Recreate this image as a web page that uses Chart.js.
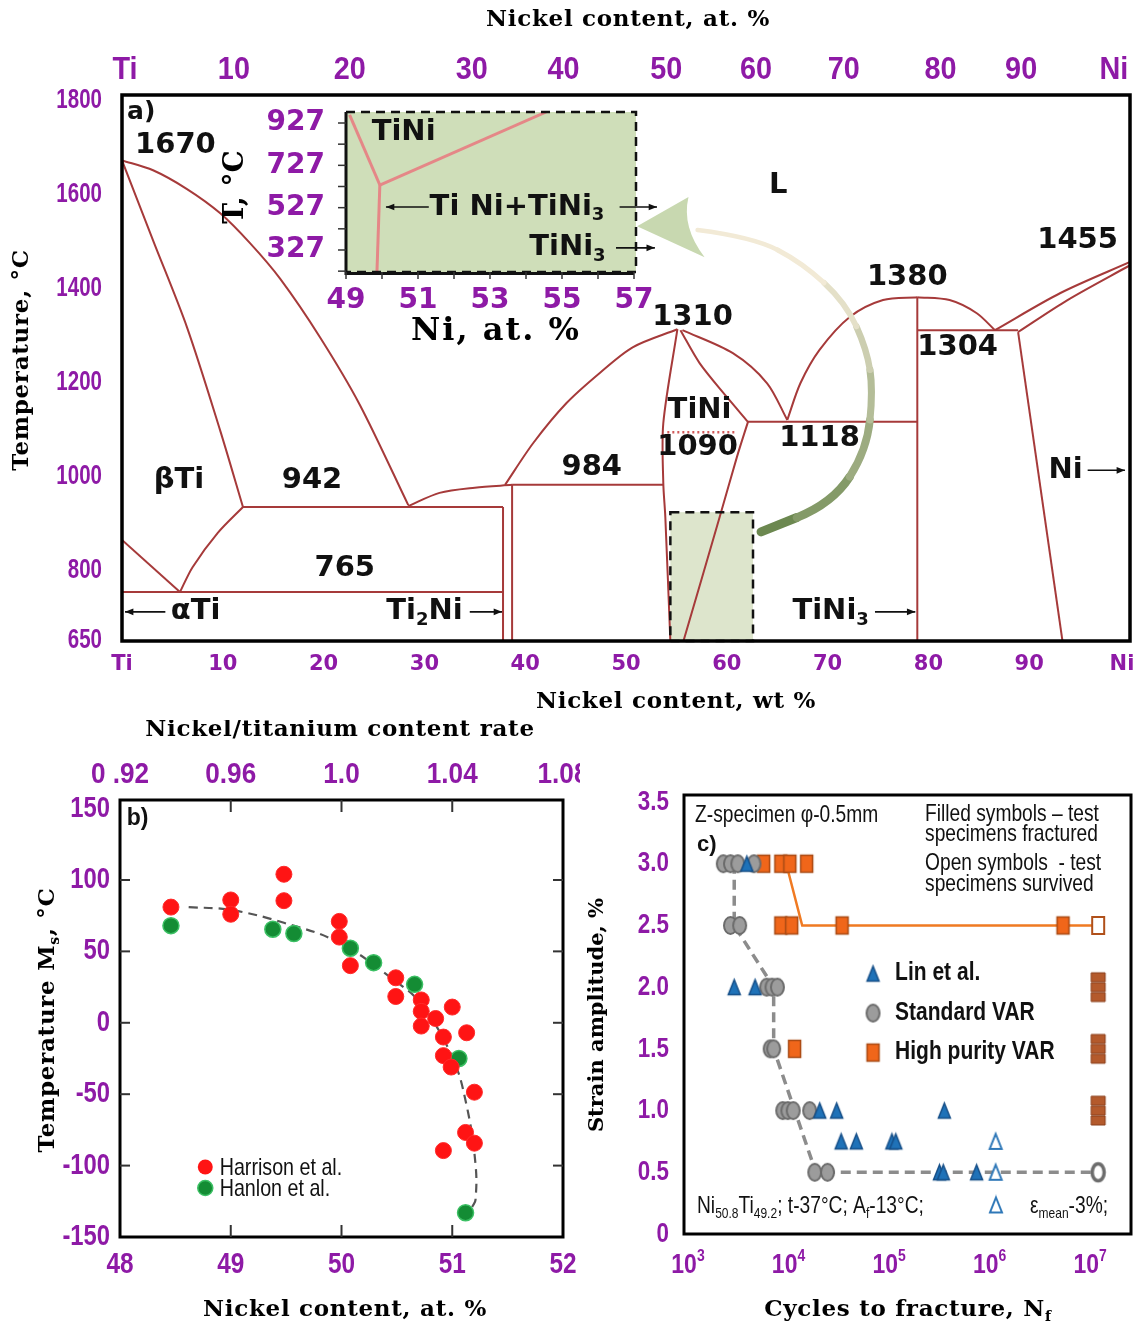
<!DOCTYPE html>
<html>
<head>
<meta charset="utf-8">
<title>Ti-Ni</title>
<script src="https://cdn.jsdelivr.net/npm/chart.js@4.4.1/dist/chart.umd.min.js"></script>
<style>
  html, body { margin: 0; padding: 0; background: #fff; }
  #wrap { position: relative; width: 1143px; height: 1326px; overflow: hidden; }
  #wrap canvas { position: absolute; }
</style>
</head>
<body>
<div id="wrap">
  <canvas id="phase" width="1143" height="720" style="left:0;top:0"></canvas>
  <canvas id="inset" width="470" height="255" style="left:200px;top:95px"></canvas>
  <canvas id="ms" width="580" height="606" style="left:0;top:720px"></canvas>
  <canvas id="fatigue" width="563" height="606" style="left:580px;top:720px"></canvas>
</div>
<script>
// ---------------------------------------------------------------------------
// a) Ti-Ni phase diagram  (x = Ni wt %, y = temperature, °C)
// ---------------------------------------------------------------------------
const wtTicks = [0, 10, 20, 30, 40, 50, 60, 70, 80, 90, 100];
const wtLabels = ['Ti', '10', '20', '30', '40', '50', '60', '70', '80', '90', 'Ni'];
const atTickPos = [0.3, 11.1, 22.6, 34.7, 43.8, 54.0, 62.9, 71.6, 81.2, 89.2, 98.4];
const atLabels = ['Ti', '10', '20', '30', '40', '50', '60', '70', '80', '90', 'Ni'];
const tTicks = [650, 800, 1000, 1200, 1400, 1600, 1800];

// curved boundaries
const liqTi = [[0, 1672], [3.08, 1651], [6.45, 1611], [9.72, 1560], [12.7, 1496], [15.7, 1420], [19.64, 1296], [23.6, 1152], [28.4, 939]];
const betaTi = [[0, 1672], [3.08, 1502], [6.45, 1317], [9.72, 1099], [12.0, 935]];
const alphaRight = [[5.75, 754], [7.0, 807], [9.5, 880], [12.0, 935]];
const eutTi2Ni = [[28.4, 937], [31.5, 965], [35.0, 976], [38.7, 982]];
const liqTiNiL = [[38.0, 982], [40.8, 1071], [44.1, 1156], [47.4, 1220], [50.7, 1275], [55.1, 1313]];
const tiNiLeft = [[55.1, 1313], [53.7, 1113], [53.7, 986], [53.9, 914], [54.4, 650]];
const tiNiRightUp = [[55.4, 1311], [57.3, 1241], [60.0, 1169], [62.1, 1116]];
const tiNiRightLow = [[62.1, 1116], [61.0, 1041], [59.3, 914], [55.7, 650]];
const liqTiNiR = [[55.6, 1311], [60.6, 1262], [64.0, 1198], [66.0, 1120]];
const liqTiNi3L = [[66.0, 1120], [67.3, 1198], [69.2, 1269], [72.2, 1339], [75.5, 1375], [78.9, 1381]];
const liqTiNi3R = [[78.9, 1381], [82.1, 1375], [84.8, 1347], [86.6, 1311]];
const liqNi = [[86.6, 1311], [93.1, 1390], [100, 1456]];
const solNi = [[88.9, 1307], [93.8, 1375], [100, 1449]];
// straight boundaries
const alphaLeft = [[0, 865], [5.75, 754]];
const iso765 = [[0, 754], [37.8, 754]];
const iso942 = [[12.0, 935], [37.8, 935]];
const ti2NiL = [[37.8, 935], [37.8, 650]];
const ti2NiR = [[38.7, 982], [38.7, 650]];
const iso984 = [[38.7, 982], [53.7, 982]];
const iso1118 = [[62.1, 1116], [78.9, 1116]];
const tiNi3Line = [[78.9, 1381], [78.9, 650]];
const iso1304 = [[78.9, 1311], [88.9, 1311]];
const solvusNi = [[88.9, 1307], [93.3, 650]];
const iso1090 = [[54.1, 1094], [61.0, 1094]];

// framed region and the curved pointer to the inset
const boxWt = [54.4, 62.6];
const boxT = [650, 924];
const arrowWt = [63.4, 70.5, 73.9, 74.5, 73.9, 71.8, 67.5, 62.6, 57.1];
const arrowT = [882, 943, 1056, 1184, 1269, 1369, 1454, 1509, 1524];
const arrowHeadWt = [51.1, 56.2, 57.8];
const arrowHeadT = [1532, 1594, 1466];

// inset (x = Ni at %, y = °C)
const insetAtTicks = [49, 51, 53, 55, 57];
const insetTTicks = [327, 527, 727, 927];
const insetMinorAt = [49, 50, 51, 52, 53, 54, 55, 56, 57];
const insetMinorT = [227, 327, 427, 527, 627, 727, 827, 927];
const insetSolvusA = [[49.1, 965], [49.94, 634]];
const insetSolvusB = [[49.94, 634], [54.56, 979]];
const insetSolvusC = [[49.94, 634], [49.86, 223]];

// ---------------------------------------------------------------------------
// b) Ms temperature vs Ni content
// ---------------------------------------------------------------------------
const msAtTicks = [48, 49, 50, 51, 52];
const msRatioLabels = ['0 .92', '0.96', '1.0', '1.04', '1.08'];
const msTTicks = [-150, -100, -50, 0, 50, 100, 150];
const msInnerX = [49, 50, 51];
const msInnerY = [-100, -50, 0, 50, 100];
const harrisonNi = [48.46, 49.0, 49.0, 49.48, 49.48, 49.98, 49.98, 50.08, 50.49, 50.49, 50.72, 50.72, 50.72, 50.85, 51.0, 51.13, 50.92, 50.92, 50.99, 51.2, 51.12, 51.2, 50.92];
const harrisonMs = [81, 86, 76, 104, 85.5, 71, 60, 40, 31.5, 18.4, 16, 8, -2.3, 3, 11, -7, -10, -23, -31, -48.6, -76.8, -84.3, -89.5];
const hanlonNi = [48.46, 49.38, 49.57, 50.08, 50.29, 50.66, 51.06, 51.12];
const hanlonMs = [68, 65.5, 62.5, 52.2, 42.1, 26.9, -25, -133];
const fitNi = [48.62, 49.0, 49.48, 49.98, 50.49, 50.72, 51.0, 51.13, 51.21, 51.21, 51.18];
const fitMs = [81, 79, 70, 56, 29, 13, -24, -58, -99, -124, -129];

// ---------------------------------------------------------------------------
// c) strain amplitude vs cycles to fracture
// ---------------------------------------------------------------------------
const nfTicks = [1e3, 1e4, 1e5, 1e6, 1e7];
const nfExp = ['3', '4', '5', '6', '7'];
const saTicks = [0, 0.5, 1, 1.5, 2, 2.5, 3, 3.5];
const stdN = [2460, 2900, 3430, 4970, 2900, 3580, 6640, 7500, 8500, 7200, 7800, 9600, 10800, 12200, 17800, 20000, 26800];
const stdS = [3.0, 3.0, 3.0, 3.0, 2.5, 2.5, 2.0, 2.0, 2.0, 1.5, 1.5, 1.0, 1.0, 1.0, 1.0, 0.5, 0.5];
const stdOpenN = [13200000];
const stdOpenS = [0.5];
const linN = [4220, 3160, 5100, 22400, 33000, 389000, 36600, 51800, 117000, 128000, 348000, 380000, 815000];
const linS = [3.0, 2.0, 2.0, 1.0, 1.0, 1.0, 0.75, 0.75, 0.75, 0.75, 0.5, 0.5, 0.5];
const linOpenN = [1260000, 1260000];
const linOpenS = [0.75, 0.5];
const hpN = [6200, 9200, 11300, 16600, 9200, 11800, 37400, 5900000, 12600];
const hpS = [3.0, 3.0, 3.0, 3.0, 2.5, 2.5, 2.5, 2.5, 1.5];
const hpOpenN = [13200000];
const hpOpenS = [2.5];
const hpStackN = [13200000, 13200000, 13200000, 13200000, 13200000, 13200000, 13200000, 13200000, 13200000];
const hpStackS = [2.08, 2.0, 1.92, 1.58, 1.5, 1.42, 1.08, 1.0, 0.92];
const hpLineN = [10400, 15000, 13200000];
const hpLineS = [3.0, 2.5, 2.5];
const stdLineN = [3160, 3160, 7800, 7800, 20500, 13200000];
const stdLineS = [3.0, 2.5, 2.0, 1.5, 0.5, 0.5];

// ---------------------------------------------------------------------------
const SANS = "'Liberation Sans',Arial,sans-serif";
const SERIF = "'DejaVu Serif',serif";
const DVS = "'DejaVu Sans',sans-serif";
const PURPLE = '#8e1aa6';
const LINE = '#a63a3a';

Chart.defaults.font.family = SANS;

const pts = (xs, ys) => xs.map((x, i) => ({ x: x, y: ys[i] }));
const pairs = arr => arr.map(p => ({ x: p[0], y: p[1] }));

function parseRich(s) {
  const out = [];
  const re = /([_^])\{([^}]*)\}/g;
  let m, last = 0;
  while ((m = re.exec(s))) {
    if (m.index > last) out.push({ t: s.slice(last, m.index), k: 0 });
    out.push({ t: m[2], k: m[1] === '_' ? 1 : -1 });
    last = re.lastIndex;
  }
  if (last < s.length) out.push({ t: s.slice(last), k: 0 });
  return out;
}

// text with _{sub} and ^{sup}; sx squeezes the glyphs horizontally
function drawRich(ctx, s, x, y, f) {
  const parts = parseRich(s);
  const fontOf = k => `${f.weight || 'normal'} ${k ? Math.round(f.size * 0.62) : f.size}px ${f.family || SANS}`;
  ctx.save();
  ctx.letterSpacing = (f.spacing || 0) + 'px';
  let w = 0;
  parts.forEach(p => { ctx.font = fontOf(p.k); p.w = ctx.measureText(p.t).width; w += p.w; });
  ctx.translate(x, y);
  if (f.rot) ctx.rotate(f.rot);
  if (f.sx) ctx.scale(f.sx, 1);
  let cx = f.align === 'left' ? 0 : f.align === 'right' ? -w : -w / 2;
  ctx.fillStyle = f.color || '#000';
  ctx.textBaseline = 'middle';
  ctx.textAlign = 'left';
  parts.forEach(p => {
    ctx.font = fontOf(p.k);
    const dy = p.k === 1 ? f.size * 0.3 : p.k === -1 ? -f.size * 0.32 : 0;
    ctx.fillText(p.t, cx, dy);
    cx += p.w;
  });
  ctx.restore();
}

function arrowLine(ctx, x1, y1, x2, y2) {
  ctx.save();
  ctx.strokeStyle = '#111';
  ctx.fillStyle = '#111';
  ctx.lineWidth = 1.6;
  ctx.beginPath(); ctx.moveTo(x1, y1); ctx.lineTo(x2, y2); ctx.stroke();
  const a = Math.atan2(y2 - y1, x2 - x1), h = 9;
  ctx.beginPath();
  ctx.moveTo(x2, y2);
  ctx.lineTo(x2 - h * Math.cos(a - 0.38), y2 - h * Math.sin(a - 0.38));
  ctx.lineTo(x2 - h * Math.cos(a + 0.38), y2 - h * Math.sin(a + 0.38));
  ctx.closePath(); ctx.fill();
  ctx.restore();
}

function mix(a, b, t) {
  const h = c => [1, 3, 5].map(i => parseInt(c.slice(i, i + 2), 16));
  const pa = h(a), pb = h(b);
  return 'rgb(' + pa.map((v, i) => Math.round(v + (pb[i] - v) * t)).join(',') + ')';
}

function fixAxis(size, horizontal) {
  return s => {
    if (horizontal) s.height = size; else s.width = size;
    s.paddingLeft = 0; s.paddingRight = 0; s.paddingTop = 0; s.paddingBottom = 0;
  };
}
const setTicks = arr => s => { s.ticks = arr.map(v => ({ value: v })); };
const axisBase = { grid: { display: false, drawTicks: false }, border: { display: false }, ticks: { display: false } };

const TITLE = { size: 23, weight: 'bold', family: SERIF, spacing: 0.7 };
const tickFont = (size, sx, extra) => Object.assign({ size: size, weight: 'bold', family: SANS, color: PURPLE, sx: sx }, extra || {});

// ---------------------------------------------------------------------------
// chart a)
// ---------------------------------------------------------------------------
const curved = [liqTi, betaTi, alphaRight, eutTi2Ni, liqTiNiL, tiNiLeft, tiNiRightUp, tiNiRightLow,
  liqTiNiR, liqTiNi3L, liqTiNi3R, liqNi, solNi];
const straight = [alphaLeft, iso765, iso942, ti2NiL, ti2NiR, iso984, iso1118, tiNi3Line, iso1304, solvusNi];

const phaseSets = curved.map(c => ({ data: pairs(c), showLine: true, tension: 0.3, borderColor: LINE, borderWidth: 2, pointRadius: 0 }))
  .concat(straight.map(c => ({ data: pairs(c), showLine: true, tension: 0, borderColor: LINE, borderWidth: 2, pointRadius: 0 })))
  .concat([{ data: pairs(iso1090), showLine: true, borderColor: '#d05a5a', borderWidth: 2.5, borderDash: [2, 3], pointRadius: 0 }]);

const phaseTexts = [
  ['1670', 5.3, 1704], ['L', 65.1, 1619], ['1455', 94.8, 1502], ['1380', 77.9, 1424],
  ['1310', 56.6, 1339], ['1304', 82.9, 1275], ['TiNi', 57.3, 1141], ['1090', 57.1, 1062],
  ['1118', 69.2, 1081], ['βTi', 5.65, 992], ['942', 18.85, 992], ['984', 46.6, 1020],
  ['765', 22.1, 805], ['αTi', 7.3, 712], ['Ti_{2}Ni', 30.0, 712], ['TiNi_{3}', 70.3, 712], ['Ni', 93.6, 1013]
];
const phaseArrows = [[4.3, 712, 0.3, 712], [34.5, 712, 37.7, 712], [74.7, 712, 78.7, 712], [95.8, 1013, 99.5, 1013]];

new Chart(document.getElementById('phase'), {
  type: 'scatter',
  data: { datasets: phaseSets },
  options: {
    responsive: false, animation: false, devicePixelRatio: 1,
    layout: { padding: { top: 0, right: 13, bottom: 0, left: 0 } },
    plugins: { legend: { display: false }, tooltip: { enabled: false } },
    scales: {
      x: Object.assign({ type: 'linear', position: 'bottom', min: 0, max: 100,
        afterBuildTicks: setTicks(wtTicks), afterFit: fixAxis(79, true) }, axisBase),
      x2: Object.assign({ type: 'linear', position: 'top', min: 0, max: 100,
        afterBuildTicks: setTicks(atTickPos), afterFit: fixAxis(95, true) }, axisBase),
      y: Object.assign({ type: 'linear', min: 650, max: 1811,
        afterBuildTicks: setTicks(tTicks), afterFit: fixAxis(122, false) }, axisBase)
    }
  },
  plugins: [{
    id: 'phaseDecor',
    beforeDatasetsDraw(chart) {
      const ctx = chart.ctx, X = v => chart.scales.x.getPixelForValue(v), Y = v => chart.scales.y.getPixelForValue(v);
      ctx.save();
      ctx.fillStyle = '#dde5cc';
      ctx.fillRect(X(boxWt[0]), Y(boxT[1]), X(boxWt[1]) - X(boxWt[0]), Y(boxT[0]) - Y(boxT[1]));
      ctx.restore();
    },
    afterDatasetsDraw(chart) {
      const ctx = chart.ctx, a = chart.chartArea;
      const X = v => chart.scales.x.getPixelForValue(v), Y = v => chart.scales.y.getPixelForValue(v);
      ctx.save();
      // dashed frame of the zoomed region
      ctx.strokeStyle = '#111'; ctx.lineWidth = 2.5; ctx.setLineDash([9, 6]);
      ctx.strokeRect(X(boxWt[0]), Y(boxT[1]), X(boxWt[1]) - X(boxWt[0]), Y(boxT[0]) - Y(boxT[1]));
      ctx.setLineDash([]);
      // curved pointer to the inset
      const p = arrowWt.map((w, i) => [X(w), Y(arrowT[i])]);
      ctx.lineCap = 'round';
      for (let i = 0; i < p.length - 1; i++) {
        const t = i / (p.length - 2);
        const s0 = i === 0 ? p[0] : [(p[i - 1][0] + p[i][0]) / 2, (p[i - 1][1] + p[i][1]) / 2];
        const s1 = i === p.length - 2 ? p[i + 1] : [(p[i][0] + p[i + 1][0]) / 2, (p[i][1] + p[i + 1][1]) / 2];
        ctx.strokeStyle = mix('#6c8850', '#f2ead6', Math.min(1, t * 1.25));
        ctx.lineWidth = 9 - 4.5 * t;
        ctx.beginPath(); ctx.moveTo(s0[0], s0[1]);
        ctx.quadraticCurveTo(p[i][0], p[i][1], s1[0], s1[1]);
        ctx.stroke();
      }
      ctx.fillStyle = '#c8d8b0';
      ctx.beginPath();
      ctx.moveTo(X(arrowHeadWt[0]), Y(arrowHeadT[0]));
      ctx.lineTo(X(arrowHeadWt[1]), Y(arrowHeadT[1]));
      ctx.quadraticCurveTo(X(55.5), Y(1530), X(arrowHeadWt[2]), Y(arrowHeadT[2]));
      ctx.closePath(); ctx.fill();
      // frame
      ctx.strokeStyle = '#000'; ctx.lineWidth = 3.5;
      ctx.strokeRect(a.left, a.top, a.right - a.left, a.bottom - a.top);
      ctx.restore();
      const lf = { size: 29, weight: 'bold', family: DVS, color: '#111' };
      phaseTexts.forEach(t => drawRich(ctx, t[0], X(t[1]), Y(t[2]), lf));
      drawRich(ctx, 'a)', X(0.5), Y(1774), { size: 25, weight: 'bold', family: DVS, color: '#111', align: 'left' });
      phaseArrows.forEach(r => arrowLine(ctx, X(r[0]), Y(r[1]), X(r[2]), Y(r[3])));
    },
    afterDraw(chart) {
      const ctx = chart.ctx, a = chart.chartArea;
      const X = v => chart.scales.x.getPixelForValue(v), Y = v => chart.scales.y.getPixelForValue(v);
      tTicks.forEach(v => drawRich(ctx, String(v), a.left - 20, Y(v), tickFont(27, 0.76, { align: 'right' })));
      wtTicks.forEach((v, i) => drawRich(ctx, wtLabels[i], X(v) - (i === wtTicks.length - 1 ? 8 : 0), a.bottom + 24,
        { size: 21, weight: 'bold', family: DVS, color: PURPLE }));
      atTickPos.forEach((v, i) => drawRich(ctx, atLabels[i], X(v), a.top - 25, tickFont(32, 0.9)));
      drawRich(ctx, 'Nickel content, at. %', 628, 20, TITLE);
      drawRich(ctx, 'Nickel content, wt %', 676, 702, TITLE);
      drawRich(ctx, 'Temperature, °C', 22, 360, Object.assign({}, TITLE, { rot: -Math.PI / 2 }));
    }
  }]
});

// inset of a)
new Chart(document.getElementById('inset'), {
  type: 'scatter',
  data: {
    datasets: [insetSolvusA, insetSolvusB, insetSolvusC].map(c => ({
      data: pairs(c), showLine: true, borderColor: '#e58787', borderWidth: 3, pointRadius: 0
    }))
  },
  options: {
    responsive: false, animation: false, devicePixelRatio: 1,
    layout: { padding: { top: 17, right: 36, bottom: 0, left: 0 } },
    plugins: { legend: { display: false }, tooltip: { enabled: false } },
    scales: {
      x: Object.assign({ type: 'linear', min: 49, max: 57,
        afterBuildTicks: setTicks(insetAtTicks), afterFit: fixAxis(78, true) }, axisBase),
      y: Object.assign({ type: 'linear', min: 223, max: 979,
        afterBuildTicks: setTicks(insetTTicks), afterFit: fixAxis(146, false) }, axisBase)
    }
  },
  plugins: [{
    id: 'insetDecor',
    beforeDatasetsDraw(chart) {
      const ctx = chart.ctx, a = chart.chartArea;
      ctx.save(); ctx.fillStyle = '#cfdeb9';
      ctx.fillRect(a.left, a.top, a.right - a.left + 2, a.bottom - a.top);
      ctx.restore();
    },
    afterDatasetsDraw(chart) {
      const ctx = chart.ctx, a = chart.chartArea;
      const X = v => chart.scales.x.getPixelForValue(v), Y = v => chart.scales.y.getPixelForValue(v);
      ctx.save();
      ctx.strokeStyle = '#111'; ctx.lineWidth = 2.5; ctx.setLineDash([9, 6]);
      ctx.beginPath();
      ctx.moveTo(a.left, a.top); ctx.lineTo(a.right + 2, a.top); ctx.lineTo(a.right + 2, a.bottom); ctx.lineTo(a.left, a.bottom);
      ctx.stroke();
      ctx.setLineDash([]);
      ctx.lineWidth = 3;
      ctx.beginPath(); ctx.moveTo(a.left, a.top); ctx.lineTo(a.left, a.bottom + 1.5); ctx.lineTo(a.right, a.bottom + 1.5); ctx.stroke();
      ctx.lineWidth = 1.5; ctx.strokeStyle = '#333';
      insetMinorT.forEach(t => { ctx.beginPath(); ctx.moveTo(a.left, Y(t)); ctx.lineTo(a.left - 8, Y(t)); ctx.stroke(); });
      insetMinorAt.forEach(v => { ctx.beginPath(); ctx.moveTo(X(v), a.bottom); ctx.lineTo(X(v), a.bottom + 7); ctx.stroke(); });
      ctx.restore();
      const f = { size: 29, weight: 'bold', family: DVS, color: '#111' };
      drawRich(ctx, 'TiNi', X(50.6), Y(880), f);
      drawRich(ctx, 'Ti Ni+TiNi_{3}', X(53.75), Y(530), f);
      drawRich(ctx, 'TiNi_{3}', X(55.15), Y(337), f);
      arrowLine(ctx, X(51.3), Y(530), X(50.11), Y(530));
      arrowLine(ctx, X(56.6), Y(530), X(57.64), Y(530));
      arrowLine(ctx, X(56.5), Y(337), X(57.58), Y(337));
    },
    afterDraw(chart) {
      const ctx = chart.ctx, a = chart.chartArea;
      const X = v => chart.scales.x.getPixelForValue(v), Y = v => chart.scales.y.getPixelForValue(v);
      insetTTicks.forEach(v => drawRich(ctx, String(v), a.left - 21, Y(v),
        { size: 28, weight: 'bold', family: DVS, color: PURPLE, align: 'right' }));
      insetAtTicks.forEach(v => drawRich(ctx, String(v), X(v), a.bottom + 29,
        { size: 28, weight: 'bold', family: DVS, color: PURPLE }));
      drawRich(ctx, 'T, °C', 36, 92, { size: 28, weight: 'bold', family: SERIF, rot: -Math.PI / 2 });
      drawRich(ctx, 'Ni, at. %', 296, 237, { size: 32, weight: 'bold', family: SERIF, spacing: 2 });
    }
  }]
});

// ---------------------------------------------------------------------------
// chart b)
// ---------------------------------------------------------------------------
new Chart(document.getElementById('ms'), {
  type: 'scatter',
  data: {
    datasets: [
      { label: 'Harrison et al.', data: pts(harrisonNi, harrisonMs), pointRadius: 8, backgroundColor: '#ff1414', borderColor: '#ff2a2a', borderWidth: 1, order: 0 },
      { label: 'Hanlon et al.', data: pts(hanlonNi, hanlonMs), pointRadius: 8, backgroundColor: '#148c34', borderColor: '#3cc064', borderWidth: 1.5, order: 1 },
      { label: 'fit', data: pts(fitNi, fitMs), showLine: true, tension: 0.4, borderColor: '#555', borderWidth: 2.2, borderDash: [9, 6], pointRadius: 0, order: 5 }
    ]
  },
  options: {
    responsive: false, animation: false, devicePixelRatio: 1,
    layout: { padding: { top: 0, right: 17, bottom: 0, left: 0 } },
    plugins: { legend: { display: false }, tooltip: { enabled: false } },
    scales: {
      x: Object.assign({ type: 'linear', position: 'bottom', min: 48, max: 52,
        afterBuildTicks: setTicks(msAtTicks), afterFit: fixAxis(89, true) }, axisBase),
      x2: Object.assign({ type: 'linear', position: 'top', min: 48, max: 52,
        afterBuildTicks: setTicks(msAtTicks), afterFit: fixAxis(80, true) }, axisBase),
      y: Object.assign({ type: 'linear', min: -150, max: 156,
        afterBuildTicks: setTicks(msTTicks), afterFit: fixAxis(120, false) }, axisBase)
    }
  },
  plugins: [{
    id: 'msDecor',
    afterDatasetsDraw(chart) {
      const ctx = chart.ctx, a = chart.chartArea;
      const X = v => chart.scales.x.getPixelForValue(v), Y = v => chart.scales.y.getPixelForValue(v);
      ctx.save();
      ctx.strokeStyle = '#000'; ctx.lineWidth = 3;
      ctx.strokeRect(a.left, a.top, a.right - a.left, a.bottom - a.top);
      ctx.lineWidth = 2; ctx.strokeStyle = '#333';
      msInnerX.forEach(v => {
        ctx.beginPath(); ctx.moveTo(X(v), a.top); ctx.lineTo(X(v), a.top + 12); ctx.stroke();
        ctx.beginPath(); ctx.moveTo(X(v), a.bottom); ctx.lineTo(X(v), a.bottom - 12); ctx.stroke();
      });
      msInnerY.forEach(v => {
        ctx.beginPath(); ctx.moveTo(a.left, Y(v)); ctx.lineTo(a.left + 10, Y(v)); ctx.stroke();
        ctx.beginPath(); ctx.moveTo(a.right, Y(v)); ctx.lineTo(a.right - 10, Y(v)); ctx.stroke();
      });
      // legend
      ctx.fillStyle = '#ff1414';
      ctx.beginPath(); ctx.arc(X(48.77), Y(-101), 7.5, 0, Math.PI * 2); ctx.fill();
      ctx.fillStyle = '#148c34'; ctx.strokeStyle = '#3cc064'; ctx.lineWidth = 1.5;
      ctx.beginPath(); ctx.arc(X(48.77), Y(-115.7), 7.5, 0, Math.PI * 2); ctx.fill(); ctx.stroke();
      ctx.restore();
      const f = { size: 24, family: SANS, color: '#111', align: 'left', sx: 0.82 };
      drawRich(ctx, 'Harrison et al.', X(48.9), Y(-102), f);
      drawRich(ctx, 'Hanlon et al.', X(48.9), Y(-116.5), f);
      drawRich(ctx, 'b)', X(48.06), Y(143), { size: 23, weight: 'bold', family: SANS, color: '#111', align: 'left' });
    },
    afterDraw(chart) {
      const ctx = chart.ctx, a = chart.chartArea;
      const X = v => chart.scales.x.getPixelForValue(v), Y = v => chart.scales.y.getPixelForValue(v);
      msTTicks.forEach(v => drawRich(ctx, String(v), a.left - 10, Y(v), tickFont(29, 0.82, { align: 'right' })));
      msAtTicks.forEach(v => drawRich(ctx, String(v), X(v), a.bottom + 28, tickFont(29, 0.84)));
      msAtTicks.forEach((v, i) => drawRich(ctx, msRatioLabels[i], X(v), a.top - 25, tickFont(29, 0.9)));
      drawRich(ctx, 'Nickel/titanium content rate', 340, 10, TITLE);
      drawRich(ctx, 'Nickel content, at. %', 345, 590, TITLE);
      drawRich(ctx, 'Temperature M_{s}, °C', 48, 300, Object.assign({}, TITLE, { rot: -Math.PI / 2 }));
    }
  }]
});

// ---------------------------------------------------------------------------
// chart c)
// ---------------------------------------------------------------------------
function sym(shape, w, h, fill, stroke, lw) {
  const c = document.createElement('canvas');
  c.width = Math.ceil(w + 2 * lw + 2); c.height = Math.ceil(h + 2 * lw + 2);
  const g = c.getContext('2d'), cx = c.width / 2, cy = c.height / 2;
  g.fillStyle = fill; g.strokeStyle = stroke; g.lineWidth = lw;
  g.beginPath();
  if (shape === 'ellipse') g.ellipse(cx, cy, w / 2, h / 2, 0, 0, Math.PI * 2);
  else if (shape === 'rect') g.rect(cx - w / 2, cy - h / 2, w, h);
  else { g.moveTo(cx, cy - h / 2); g.lineTo(cx + w / 2, cy + h / 2); g.lineTo(cx - w / 2, cy + h / 2); g.closePath(); }
  g.fill(); g.stroke();
  return c;
}
const symStd = sym('ellipse', 13, 17, '#9c9c9c', '#6c6c6c', 2);
const symStdOpen = sym('ellipse', 12, 17, '#ffffff', '#6c6c6c', 3.5);
const symLin = sym('tri', 12, 15, '#1f72b8', '#164f88', 1.5);
const symLinOpen = sym('tri', 12, 15, '#ffffff', '#2f78b8', 2);
const symHp = sym('rect', 12, 17, '#f0661a', '#a84a14', 1.5);
const symHpOpen = sym('rect', 12, 17, '#ffffff', '#b0501a', 2);
const symStack = sym('rect', 14, 9, '#b45a2c', '#8a3e1a', 1);

const pointSet = (xs, ys, s) => ({ data: pts(xs, ys), pointStyle: s, pointRadius: 8, order: 0 });

new Chart(document.getElementById('fatigue'), {
  type: 'scatter',
  data: {
    datasets: [
      pointSet(linN, linS, symLin),
      pointSet(linOpenN, linOpenS, symLinOpen),
      pointSet(stdN, stdS, symStd),
      pointSet(stdOpenN, stdOpenS, symStdOpen),
      pointSet(hpN, hpS, symHp),
      pointSet(hpOpenN, hpOpenS, symHpOpen),
      pointSet(hpStackN, hpStackS, symStack),
      { data: pts(hpLineN, hpLineS), showLine: true, borderColor: '#f07a22', borderWidth: 2.5, pointRadius: 0, order: 5 },
      { data: pts(stdLineN, stdLineS), showLine: true, borderColor: '#8c8c8c', borderWidth: 3.5, borderDash: [10, 6], pointRadius: 0, order: 6 }
    ]
  },
  options: {
    responsive: false, animation: false, devicePixelRatio: 1,
    layout: { padding: { top: 75, right: 12, bottom: 0, left: 0 } },
    plugins: { legend: { display: false }, tooltip: { enabled: false } },
    scales: {
      x: Object.assign({ type: 'logarithmic', min: 1000, max: 2.8e7,
        afterBuildTicks: setTicks(nfTicks), afterFit: fixAxis(92, true) }, axisBase),
      y: Object.assign({ type: 'linear', min: 0, max: 3.557,
        afterBuildTicks: setTicks(saTicks), afterFit: fixAxis(104, false) }, axisBase)
    }
  },
  plugins: [{
    id: 'fatigueDecor',
    afterDatasetsDraw(chart) {
      const ctx = chart.ctx, a = chart.chartArea;
      const X = v => chart.scales.x.getPixelForValue(v), Y = v => chart.scales.y.getPixelForValue(v);
      ctx.save();
      ctx.strokeStyle = '#000'; ctx.lineWidth = 3;
      ctx.strokeRect(a.left, a.top, a.right - a.left, a.bottom - a.top);
      const put = (s, x, y) => ctx.drawImage(s, x - s.width / 2, y - s.height / 2);
      put(symLin, X(76000), Y(2.11));
      put(symStd, X(76000), Y(1.79));
      put(symHp, X(76000), Y(1.47));
      put(symLinOpen, X(1270000), Y(0.235));
      ctx.restore();
      const reg = { size: 24, family: SANS, color: '#111', align: 'left', sx: 0.8 };
      const bold = { size: 25, weight: 'bold', family: SANS, color: '#111', align: 'left', sx: 0.84 };
      drawRich(ctx, 'Z-specimen φ-0.5mm', X(1290), Y(3.39), reg);
      drawRich(ctx, 'c)', X(1350), Y(3.15), { size: 22, weight: 'bold', family: SANS, color: '#111', align: 'left' });
      drawRich(ctx, 'Filled symbols – test', X(250000), Y(3.40), reg);
      drawRich(ctx, 'specimens fractured', X(250000), Y(3.235), reg);
      drawRich(ctx, 'Open symbols  - test', X(250000), Y(3.0), reg);
      drawRich(ctx, 'specimens survived', X(250000), Y(2.835), reg);
      drawRich(ctx, 'Lin et al.', X(126000), Y(2.11), bold);
      drawRich(ctx, 'Standard VAR', X(126000), Y(1.79), bold);
      drawRich(ctx, 'High purity VAR', X(126000), Y(1.47), bold);
      drawRich(ctx, 'Ni_{50.8}Ti_{49.2}; t-37°C; A_{f}-13°C;', X(1347), Y(0.22), reg);
      drawRich(ctx, 'ε_{mean}-3%;', X(2770000), Y(0.22), reg);
    },
    afterDraw(chart) {
      const ctx = chart.ctx, a = chart.chartArea;
      const X = v => chart.scales.x.getPixelForValue(v), Y = v => chart.scales.y.getPixelForValue(v);
      saTicks.forEach(v => drawRich(ctx, v === 0 ? '0' : v.toFixed(1), a.left - 15, Y(v), tickFont(28, 0.8, { align: 'right' })));
      nfTicks.forEach((v, i) => drawRich(ctx, '10^{' + nfExp[i] + '}', X(v) + 4, a.bottom + 31, tickFont(28, 0.82)));
      drawRich(ctx, 'Cycles to fracture, N_{f}', 328, 590, TITLE);
      drawRich(ctx, 'Strain amplitude, %', 18, 295, { size: 21, weight: 'bold', family: SERIF, rot: -Math.PI / 2 });
    }
  }]
});
</script>
</body>
</html>
